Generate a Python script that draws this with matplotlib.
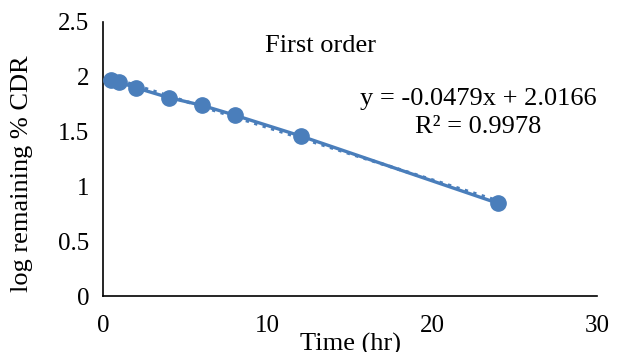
import matplotlib
matplotlib.use("Agg")
import matplotlib.pyplot as plt
import numpy as np

time_hr = [0.5, 1, 2, 4, 6, 8, 12, 24]
log_remaining = [1.97, 1.95, 1.90, 1.81, 1.74, 1.65, 1.46, 0.845]
slope = -0.0479
intercept = 2.0166
r2 = 0.9978

plt.rcParams['font.family'] = ['Liberation Serif', 'DejaVu Serif']

fig = plt.figure(figsize=(6.26, 3.52), dpi=100)
ax = fig.add_axes([0.1645, 0.159, 0.7895, 0.7785])
color = '#4A7EBB'

ax.plot(time_hr, log_remaining, '-', color=color, lw=2.4, marker='o', ms=11, zorder=3)
xt = np.array([time_hr[0], time_hr[-1]])
ax.plot(xt, slope * xt + intercept, ':', color=color, lw=2.4, zorder=2)

ax.set_xlim(0, 30)
ax.set_ylim(0, 2.5)
ax.set_xticks([0, 10, 20, 30])
ax.set_yticks([0, 0.5, 1, 1.5, 2, 2.5])
ax.set_yticklabels(['0', '0.5', '1', '1.5', '2', '2.5'])
ax.tick_params(axis='y', length=0, labelsize=18, pad=10)
ax.tick_params(axis='x', length=0, labelsize=18, pad=14)
for s in ['top', 'right']:
    ax.spines[s].set_visible(False)
for s in ['left', 'bottom']:
    ax.spines[s].set_color('black')
    ax.spines[s].set_linewidth(1.2)

ax.set_xlabel('Time (hr)', fontsize=19)
ax.xaxis.set_label_coords(0.5, -0.135)
ax.set_ylabel('log remaining % CDR', fontsize=19)
ax.yaxis.set_label_coords(-0.142, 0.445)

ax.text(13.2, 2.28, 'First order', fontsize=19, ha='center', va='center')
ax.text(22.8, 1.80, 'y = -0.0479x + 2.0166', fontsize=19, ha='center', va='center')
ax.text(22.8, 1.545, 'R² = 0.9978', fontsize=19, ha='center', va='center')

fig.savefig('out.png', dpi=100)
